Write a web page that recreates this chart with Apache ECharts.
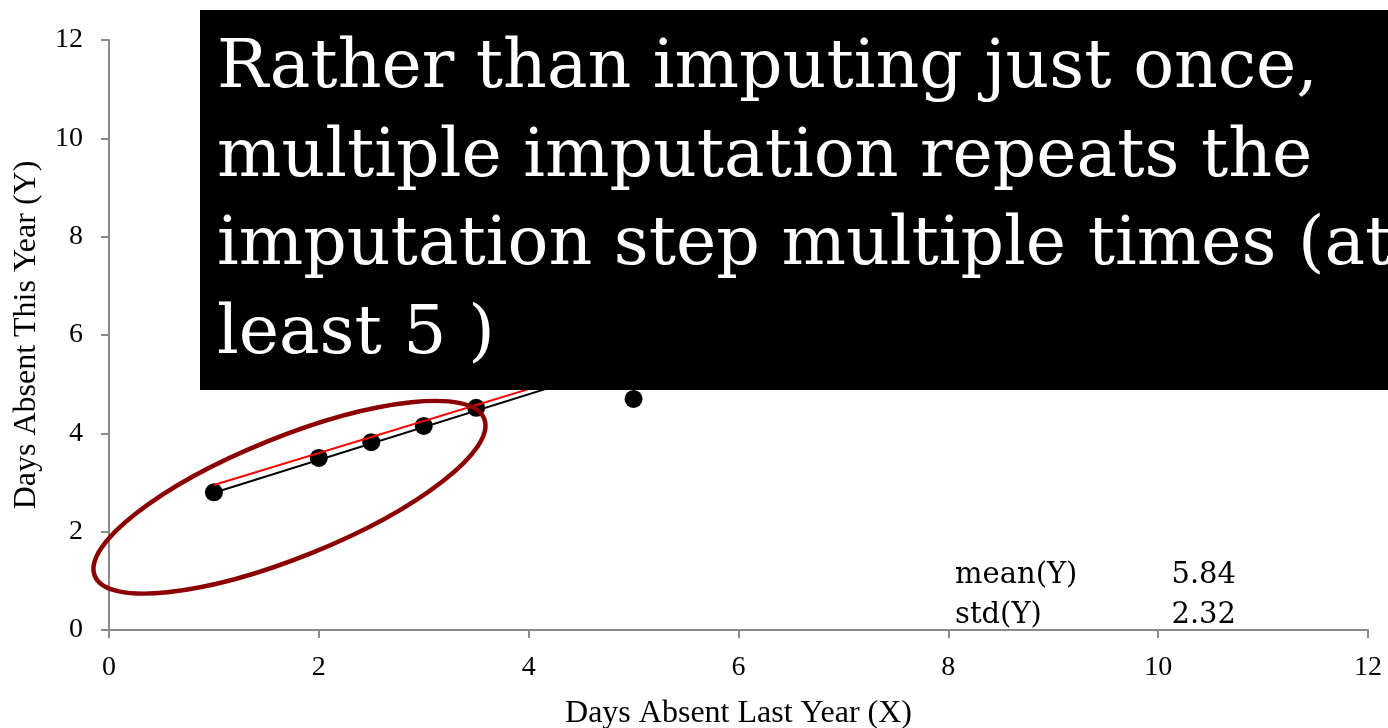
<!DOCTYPE html>
<html><head><meta charset="utf-8">
<script src="https://cdn.jsdelivr.net/npm/echarts@6/dist/echarts.min.js"></script>
<style>html,body{margin:0;padding:0;background:#fff}#c{width:1388px;height:728px}</style>
</head><body><div id="c"></div>
<script>
// ---- data ----
const xValues = [1, 2, 2.5, 3, 3.5, 5];
const yValues = [2.8, 3.5, 3.82, 4.15, 4.52, 4.7];
const fitBlack = [[1, 2.79], [6, 6.13]];
const fitRed = [[1, 2.95], [6, 6.2]];
const axisMin = 0, axisMax = 12, axisStep = 2;
const xTitle = 'Days Absent Last Year (X)';
const yTitle = 'Days Absent This Year (Y)';
const statLabels = ['mean(Y)', 'std(Y)'];
const statValues = ['5.84', '2.32'];
const calloutLines = [
  'Rather than imputing just once,',
  'multiple imputation repeats the',
  'imputation step multiple times (at',
  'least 5 )'
];
const ellipseCenter = [1.72, 2.70];

const SERIF = '"Liberation Serif", "Times New Roman", serif';
const WIDE_SERIF = '"DejaVu Serif", serif';
const chart = echarts.init(document.getElementById('c'), null, {renderer: 'canvas'});
const axisCommon = {
  type: 'value', min: axisMin, max: axisMax, interval: axisStep,
  splitLine: {show: false},
  axisLine: {show: true, lineStyle: {color: '#8a8a8a', width: 2}},
  axisTick: {show: true, inside: false, length: 8, lineStyle: {color: '#8a8a8a', width: 2}},
  nameLocation: 'middle',
  nameTextStyle: {fontFamily: SERIF, fontSize: 32, color: '#000'},
  axisLabel: {fontFamily: SERIF, fontSize: 28, color: '#000'}
};
const pts = xValues.map((x, i) => [x, yValues[i]]);
chart.setOption({
  animation: false,
  backgroundColor: '#fff',
  grid: {left: 109, right: 20, top: 40, bottom: 98, containLabel: false, outerBoundsMode: 'none'},
  xAxis: Object.assign({}, axisCommon, {name: xTitle, nameGap: 68,
    axisLabel: Object.assign({}, axisCommon.axisLabel, {margin: 24})}),
  yAxis: Object.assign({}, axisCommon, {name: yTitle, nameGap: 66,
    axisLabel: Object.assign({}, axisCommon.axisLabel, {margin: 26})}),
  series: [
    {type: 'line', data: fitBlack, symbol: 'none', z: 1,
     lineStyle: {color: '#000', width: 2}},
    {type: 'scatter', data: pts, symbol: 'circle', symbolSize: 18, z: 2,
     itemStyle: {color: '#000', opacity: 1}},
    {type: 'line', data: fitRed, symbol: 'none', z: 3,
     lineStyle: {color: '#ff0000', width: 2}}
  ]
});
const c = chart.convertToPixel({gridIndex: 0}, ellipseCenter);
chart.setOption({
  graphic: [
    {type: 'ellipse', x: c[0], y: c[1], rotation: 22 * Math.PI / 180, z: 50,
     shape: {cx: 0, cy: 0, rx: 210, ry: 60},
     style: {fill: 'none', stroke: '#8b0000', lineWidth: 4.5}},
    {type: 'rect', z: 100, shape: {x: 200, y: 10, width: 1200, height: 380},
     style: {fill: '#000'}},
    {type: 'text', z: 101, x: 217, y: 25,
     style: {text: calloutLines.join('\n'), fill: '#fff', fontSize: 68, fontFamily: WIDE_SERIF,
       lineHeight: 88.7, align: 'left', verticalAlign: 'top'}},
    {type: 'text', z: 60, x: 955, y: 575,
     style: {text: statLabels[0], fill: '#000', fontSize: 29, fontFamily: WIDE_SERIF, align: 'left', verticalAlign: 'middle'}},
    {type: 'text', z: 60, x: 955, y: 615,
     style: {text: statLabels[1], fill: '#000', fontSize: 29, fontFamily: WIDE_SERIF, align: 'left', verticalAlign: 'middle'}},
    {type: 'text', z: 60, x: 1236, y: 575,
     style: {text: statValues[0], fill: '#000', fontSize: 29, fontFamily: WIDE_SERIF, align: 'right', verticalAlign: 'middle'}},
    {type: 'text', z: 60, x: 1236, y: 615,
     style: {text: statValues[1], fill: '#000', fontSize: 29, fontFamily: WIDE_SERIF, align: 'right', verticalAlign: 'middle'}}
  ]
});
</script></body></html>
